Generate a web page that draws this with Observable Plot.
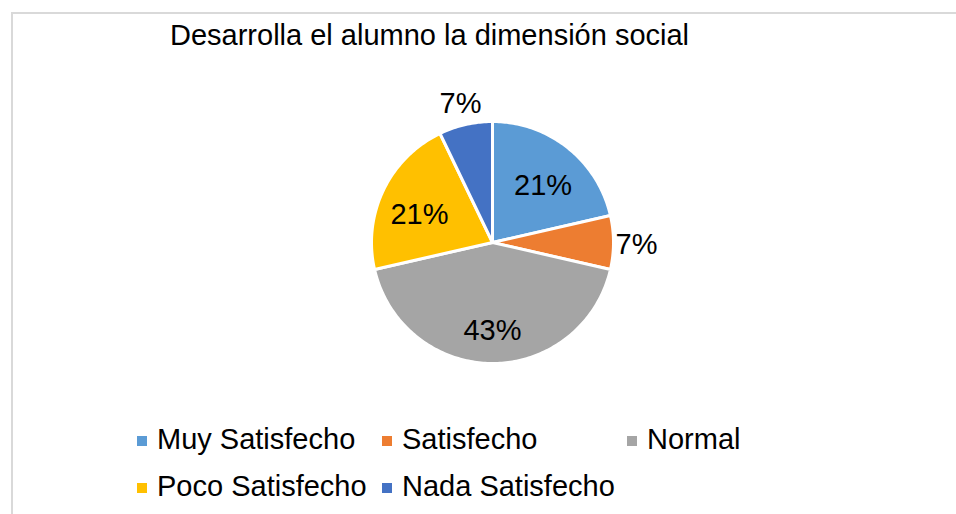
<!DOCTYPE html>
<html>
<head>
<meta charset="utf-8">
<script src="https://cdn.jsdelivr.net/npm/d3@7"></script>
<script src="https://cdn.jsdelivr.net/npm/@observablehq/plot@0.6"></script>
<style>
  html, body { margin: 0; padding: 0; background: #fff; }
  #chart { position: relative; width: 956px; height: 514px; overflow: hidden; font-family: "Liberation Sans", Arial, sans-serif; color: #000; }
  #frame { position: absolute; left: 11px; top: 12px; width: 1000px; height: 600px; border: 2px solid #d9d9d9; box-sizing: border-box; }
  #title { position: absolute; left: 170px; top: 21px; font-size: 29px; line-height: 29px; white-space: nowrap; }
  #plot { position: absolute; left: 0; top: 0; }
  .item { position: absolute; font-size: 29px; line-height: 29px; white-space: nowrap; }
  .sw { position: absolute; left: 0; top: 11px; width: 10px; height: 10px; }
  .lbl { position: absolute; left: 20px; top: 0; }
</style>
</head>
<body>
<div id="chart">
  <div id="frame"></div>
  <div id="plot"></div>
  <div id="title"></div>
</div>
<script>
// ---- data ----
const title = "Desarrolla el alumno la dimensión social";
const categories = ["Muy Satisfecho", "Satisfecho", "Normal", "Poco Satisfecho", "Nada Satisfecho"];
const responses = [3, 1, 6, 3, 1];
const colors = ["#5B9BD5", "#ED7D31", "#A5A5A5", "#FFC000", "#4472C4"];

// ---- layout ----
const W = 956, H = 514;
const cx = 492, cy = 242, Rpx = 121;

const total = d3.sum(responses);
const arcs = d3.pie().sort(null).value(d => d)(responses);

// slice outlines in unit-circle coordinates (y up)
const slicePts = [];
arcs.forEach((a, i) => {
  const key = categories[i];
  slicePts.push({key, x: 0, y: 0});
  const n = Math.max(2, Math.ceil((a.endAngle - a.startAngle) / (Math.PI / 180)));
  for (let k = 0; k <= n; k++) {
    const t = a.startAngle + (a.endAngle - a.startAngle) * k / n;
    slicePts.push({key, x: Math.sin(t), y: Math.cos(t)});
  }
});

const fmt = d3.format(".0%");
const labels = arcs.map((a, i) => {
  const share = responses[i] / total;
  const mid = (a.startAngle + a.endAngle) / 2;
  const outside = share < 0.1;
  const r = outside ? 1.19 : 0.67;
  return {key: categories[i], x: r * Math.sin(mid), y: r * Math.cos(mid), text: fmt(share), outside};
});

const xDomain = [-cx / Rpx, (W - cx) / Rpx];
const yDomain = [-(H - cy) / Rpx, cy / Rpx];

const plot = Plot.plot({
  width: W, height: H,
  margin: 0,
  style: {background: "transparent", fontFamily: "'Liberation Sans', Arial, sans-serif"},
  x: {domain: xDomain, axis: null},
  y: {domain: yDomain, axis: null},
  color: {domain: categories, range: colors},
  marks: [
    Plot.line(slicePts, {x: "x", y: "y", z: "key", fill: "key", stroke: "white", strokeWidth: 3, strokeLinejoin: "round", curve: "linear-closed"}),
    Plot.text(labels.filter(d => !d.outside), {x: "x", y: "y", text: "text", fontSize: 29, fill: "#000", dy: 7}),
    Plot.text(labels.filter(d => d.outside), {x: "x", y: "y", text: "text", fontSize: 29, fill: "#000", dy: 2})
  ]
});
document.getElementById("plot").appendChild(plot);
document.getElementById("title").textContent = title;

// legend (3 columns, 2 rows)
const chart = document.getElementById("chart");
const colX = [137, 382, 627];
const rowTop = [425, 472];
categories.forEach((c, i) => {
  const item = document.createElement("div");
  item.className = "item";
  item.style.left = colX[i % 3] + "px";
  item.style.top = rowTop[Math.floor(i / 3)] + "px";
  const sw = document.createElement("span");
  sw.className = "sw";
  sw.style.background = colors[i];
  const lb = document.createElement("span");
  lb.className = "lbl";
  lb.textContent = c;
  item.appendChild(sw);
  item.appendChild(lb);
  chart.appendChild(item);
});
</script>
</body>
</html>
